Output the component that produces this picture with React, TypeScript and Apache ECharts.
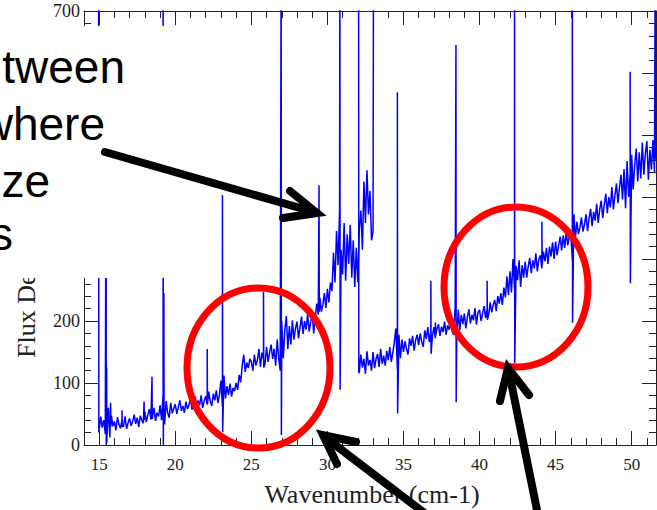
import React, { useEffect, useRef } from "react";
import * as echarts from "echarts";

// ---- axis ticks ----
const xMajorTicks = [15, 20, 25, 30, 35, 40, 45, 50];
const xMinorTicks = [14, 15, 16, 17, 18, 19, 20, 21, 22, 23, 24, 25, 26, 27, 28, 29, 30, 31, 32, 33, 34, 35, 36, 37, 38, 39, 40, 41, 42, 43, 44, 45, 46, 47, 48, 49, 50, 51];
const yMajorTicks = [0, 100, 200, 300, 400, 500, 600, 700];
const yMinorTicks = [0, 20, 40, 60, 80, 100, 120, 140, 160, 180, 200, 220, 240, 260, 280, 300, 320, 340, 360, 380, 400, 420, 440, 460, 480, 500, 520, 540, 560, 580, 600, 620, 640, 660, 680, 700];

// ---- spectrum segment A (wavenumber grid 15.0 .. 33.0, step 0.1) ----
const waveStartA = 15.0;
const waveStepA = 0.1;
const fluxA = [
  20, 46, 28, 40, 18, 4, 60, 12, 48, 30,
  38, 24, 45, 33, 27, 41, 30, 46, 26, 36,
  43, 31, 38, 49, 34, 44, 29, 47, 40, 35,
  54, 37, 49, 58, 41, 45, 60, 39, 52, 46,
  64, 40, 82, 33, 71, 52, 44, 68, 51, 59,
  66, 50, 61, 72, 55, 63, 52, 70, 58, 65,
  74, 57, 69, 78, 61, 72, 64, 80, 60, 71,
  79, 65, 86, 70, 63, 83, 72, 88, 68, 80,
  104, 62, 112, 75, 95, 81, 99, 78, 92, 87,
  100, 89, 113, 101, 128, 146, 118, 133, 124, 139,
  134, 120, 146, 128, 137, 155, 126, 149, 138, 131,
  158, 134, 149, 162, 139, 155, 128, 170, 140, 120,
  200, 140, 185, 208, 155, 192, 162, 201, 170, 188,
  199, 172, 190, 207, 179, 200, 186, 211, 183, 198,
  212, 180, 205, 228, 210, 238, 215, 226, 245, 221,
  252, 230, 262, 248, 310, 262, 345, 290, 378, 315,
  275, 358, 265, 340, 292, 355, 270, 330, 255, 318,
  262, 350, 378, 315, 425, 358, 443, 372, 410, 330,
  345,
];
// [wavenumber, peak, trough]
const spikesA = [
  [14.96, 800, 20],
  [15.45, 520, 0],
  [15.49, 125, 12],
  [15.75, 68, 30],
  [16.5, 56, 30],
  [17.95, 70, 40],
  [18.47, 110, 42],
  [19.2, 800, 0],
  [19.25, 245, 48],
  [22.1, 155, 66],
  [23.1, 403, 21],
  [25.8, 247, 125],
  [26.96, 800, 16],
  [29.45, 419, 215],
  [30.82, 800, 89],
  [33.03, 800, 800],
];

// ---- spectrum segment B (wavenumber grid 32.1 .. 51.6, step 0.1) ----
const waveStartB = 32.1;
const waveStepB = 0.1;
const fluxB = [
  118, 146, 125, 139, 115, 151, 128, 137, 120,
  150, 124, 139, 147, 126, 155, 131, 144, 128, 152,
  137, 158, 134, 149, 166, 188, 122, 178, 140, 170,
  150, 167, 155, 146, 172, 160, 176, 152, 169, 178,
  161, 180, 167, 158, 185, 171, 190, 166, 183, 175,
  190, 172, 187, 195, 176, 191, 182, 199, 178, 193,
  186, 202, 183, 178, 225, 168, 218, 185, 210, 195,
  212, 188, 206, 219, 196, 210, 201, 221, 194, 214,
  218, 200, 212, 224, 205, 219, 210, 230, 214, 226,
  234, 216, 240, 228, 245, 226, 254, 238, 272, 242,
  280, 246, 300, 252, 289, 266, 298, 255, 290, 270,
  296, 270, 288, 302, 277, 298, 285, 309, 280, 300,
  306, 285, 312, 296, 318, 292, 320, 304, 327, 300,
  328, 306, 322, 336, 314, 338, 318, 344, 322, 336,
  342, 298, 372, 334, 360, 340, 351, 367, 344, 356,
  372, 345, 366, 381, 353, 376, 362, 389, 358, 380,
  394, 366, 388, 405, 374, 400, 383, 416, 380, 402,
  422, 390, 415, 436, 396, 445, 382, 458, 400, 438,
  468, 412, 452, 478, 425, 472, 430, 488, 436, 470,
  490, 428, 476, 444, 492, 440, 482,
];
const spikesB = [
  [32.05, 800, 116],
  [34.6, 569, 51],
  [36.8, 265, 147],
  [37.1, 198, 176],
  [38.45, 645, 69],
  [40.5, 265, 202],
  [42.3, 800, 132],
  [44.1, 360, 290],
  [46.1, 800, 197],
  [49.9, 602, 261],
  [51.55, 800, 460],
];

function buildSeries(start: number, step: number, flux: number[], spikes: number[][]) {
  const pts: number[][] = flux.map((v, i) => [+(start + i * step).toFixed(3), v]);
  spikes.forEach(([w, top, bottom]) => {
    pts.push([w, top]);
    pts.push([w + 0.015, bottom]);
  });
  pts.sort((a, b) => a[0] - b[0]);
  return pts;
}

const SERIF = '"Liberation Serif", "Times New Roman", serif';
const SANS = '"Liberation Sans", Arial, sans-serif';
const AXIS_COLOR = "#222";

function xAxisDef(position: "top" | "bottom", ticks: number[], len: number, labels: boolean, line: boolean) {
  return {
    type: "value",
    position,
    min: 14,
    max: 51.6,
    axisLine: { show: line, onZero: false, lineStyle: { color: AXIS_COLOR, width: 1 } },
    axisTick: { show: true, inside: true, length: len, customValues: ticks, lineStyle: { color: AXIS_COLOR, width: 1 } },
    axisLabel: labels
      ? { show: true, customValues: ticks, fontFamily: SERIF, fontSize: 17, color: AXIS_COLOR, margin: 11 }
      : { show: false },
    splitLine: { show: false },
  };
}
function yAxisDef(position: "left" | "right", ticks: number[], len: number, labels: boolean, line: boolean) {
  return {
    type: "value",
    position,
    min: 0,
    max: 700,
    axisLine: { show: line, onZero: false, lineStyle: { color: AXIS_COLOR, width: 1 } },
    axisTick: { show: true, inside: true, length: len, customValues: ticks, lineStyle: { color: AXIS_COLOR, width: 1 } },
    axisLabel: labels
      ? { show: true, customValues: ticks, fontFamily: SERIF, fontSize: 18, color: AXIS_COLOR, margin: 4 }
      : { show: false },
    splitLine: { show: false },
  };
}

export default function App() {
  const ref = useRef<HTMLDivElement>(null);
  useEffect(() => {
    document.body.style.margin = "0";
    if (!ref.current) return;
    const chart = echarts.init(ref.current, undefined, { renderer: "svg" });
    const dataA = buildSeries(waveStartA, waveStepA, fluxA, spikesA);
    const dataB = buildSeries(waveStartB, waveStepB, fluxB, spikesB);
    const arrowStyle = { stroke: "#000", lineWidth: 8, lineCap: "round", lineJoin: "miter", fill: "none" };
    chart.setOption({
      animation: false,
      backgroundColor: "#fff",
      grid: { left: 84, right: 1, top: 11, bottom: 65, containLabel: false },
      xAxis: [
        xAxisDef("bottom", xMajorTicks, 14, true, true),
        xAxisDef("bottom", xMinorTicks, 7, false, false),
        xAxisDef("top", xMajorTicks, 14, false, true),
        xAxisDef("top", xMinorTicks, 7, false, false),
      ],
      yAxis: [
        yAxisDef("left", yMajorTicks, 14, true, true),
        yAxisDef("left", yMinorTicks, 7, false, false),
        yAxisDef("right", yMajorTicks, 14, false, true),
        yAxisDef("right", yMinorTicks, 7, false, false),
      ],
      series: [
        {
          type: "line",
          xAxisIndex: 0,
          yAxisIndex: 0,
          data: dataA,
          showSymbol: false,
          symbol: "none",
          clip: true,
          lineStyle: { color: "#0000ff", width: 1.5 },
        },
        {
          type: "line",
          xAxisIndex: 0,
          yAxisIndex: 0,
          data: dataB,
          showSymbol: false,
          symbol: "none",
          clip: true,
          lineStyle: { color: "#0000ff", width: 1.5 },
        },
      ],
      graphic: [
        {
          type: "text",
          x: 26,
          y: 358,
          rotation: Math.PI / 2,
          z: 100,
          style: { text: "Flux Density (Jy)", font: `26px ${SERIF}`, fill: AXIS_COLOR, align: "left", verticalAlign: "middle" },
        },
        {
          type: "text",
          x: 372,
          y: 494,
          z: 100,
          style: { text: "Wavenumber (cm-1)", font: `26px ${SERIF}`, fill: AXIS_COLOR, align: "center", verticalAlign: "middle" },
        },
        { type: "rect", z: 101, shape: { x: 0, y: 26, width: 190, height: 252 }, style: { fill: "#fff" } },
        { type: "text", x: 125, y: 67, z: 102, style: { text: "tween", font: `46px ${SANS}`, fill: "#000", align: "right", verticalAlign: "middle" } },
        { type: "text", x: 105, y: 124, z: 102, style: { text: "where", font: `46px ${SANS}`, fill: "#000", align: "right", verticalAlign: "middle" } },
        { type: "text", x: 50, y: 181, z: 102, style: { text: "ze", font: `46px ${SANS}`, fill: "#000", align: "right", verticalAlign: "middle" } },
        { type: "text", x: 13, y: 234, z: 102, style: { text: "s", font: `46px ${SANS}`, fill: "#000", align: "right", verticalAlign: "middle" } },
        { type: "ellipse", z: 103, shape: { cx: 258.5, cy: 368, rx: 71.5, ry: 80 }, style: { fill: "none", stroke: "#ff0000", lineWidth: 7 } },
        { type: "ellipse", z: 103, shape: { cx: 516, cy: 287, rx: 72, ry: 80 }, style: { fill: "none", stroke: "#ff0000", lineWidth: 7 } },
        { type: "line", z: 104, shape: { x1: 105, y1: 152, x2: 314, y2: 212 }, style: arrowStyle },
        { type: "polyline", z: 104, shape: { points: [[290, 191], [317, 213], [283, 218]] }, style: arrowStyle },
        { type: "line", z: 104, shape: { x1: 427, y1: 515, x2: 326, y2: 438 }, style: arrowStyle },
        { type: "polyline", z: 104, shape: { points: [[356, 442], [323, 435], [337, 464]] }, style: arrowStyle },
        { type: "line", z: 104, shape: { x1: 538, y1: 515, x2: 509, y2: 372 }, style: arrowStyle },
        { type: "polyline", z: 104, shape: { points: [[500, 401], [508, 368], [529, 395]] }, style: arrowStyle },
      ],
    });
    return () => chart.dispose();
  }, []);
  return <div ref={ref} style={{ width: 657, height: 510 }} />;
}
